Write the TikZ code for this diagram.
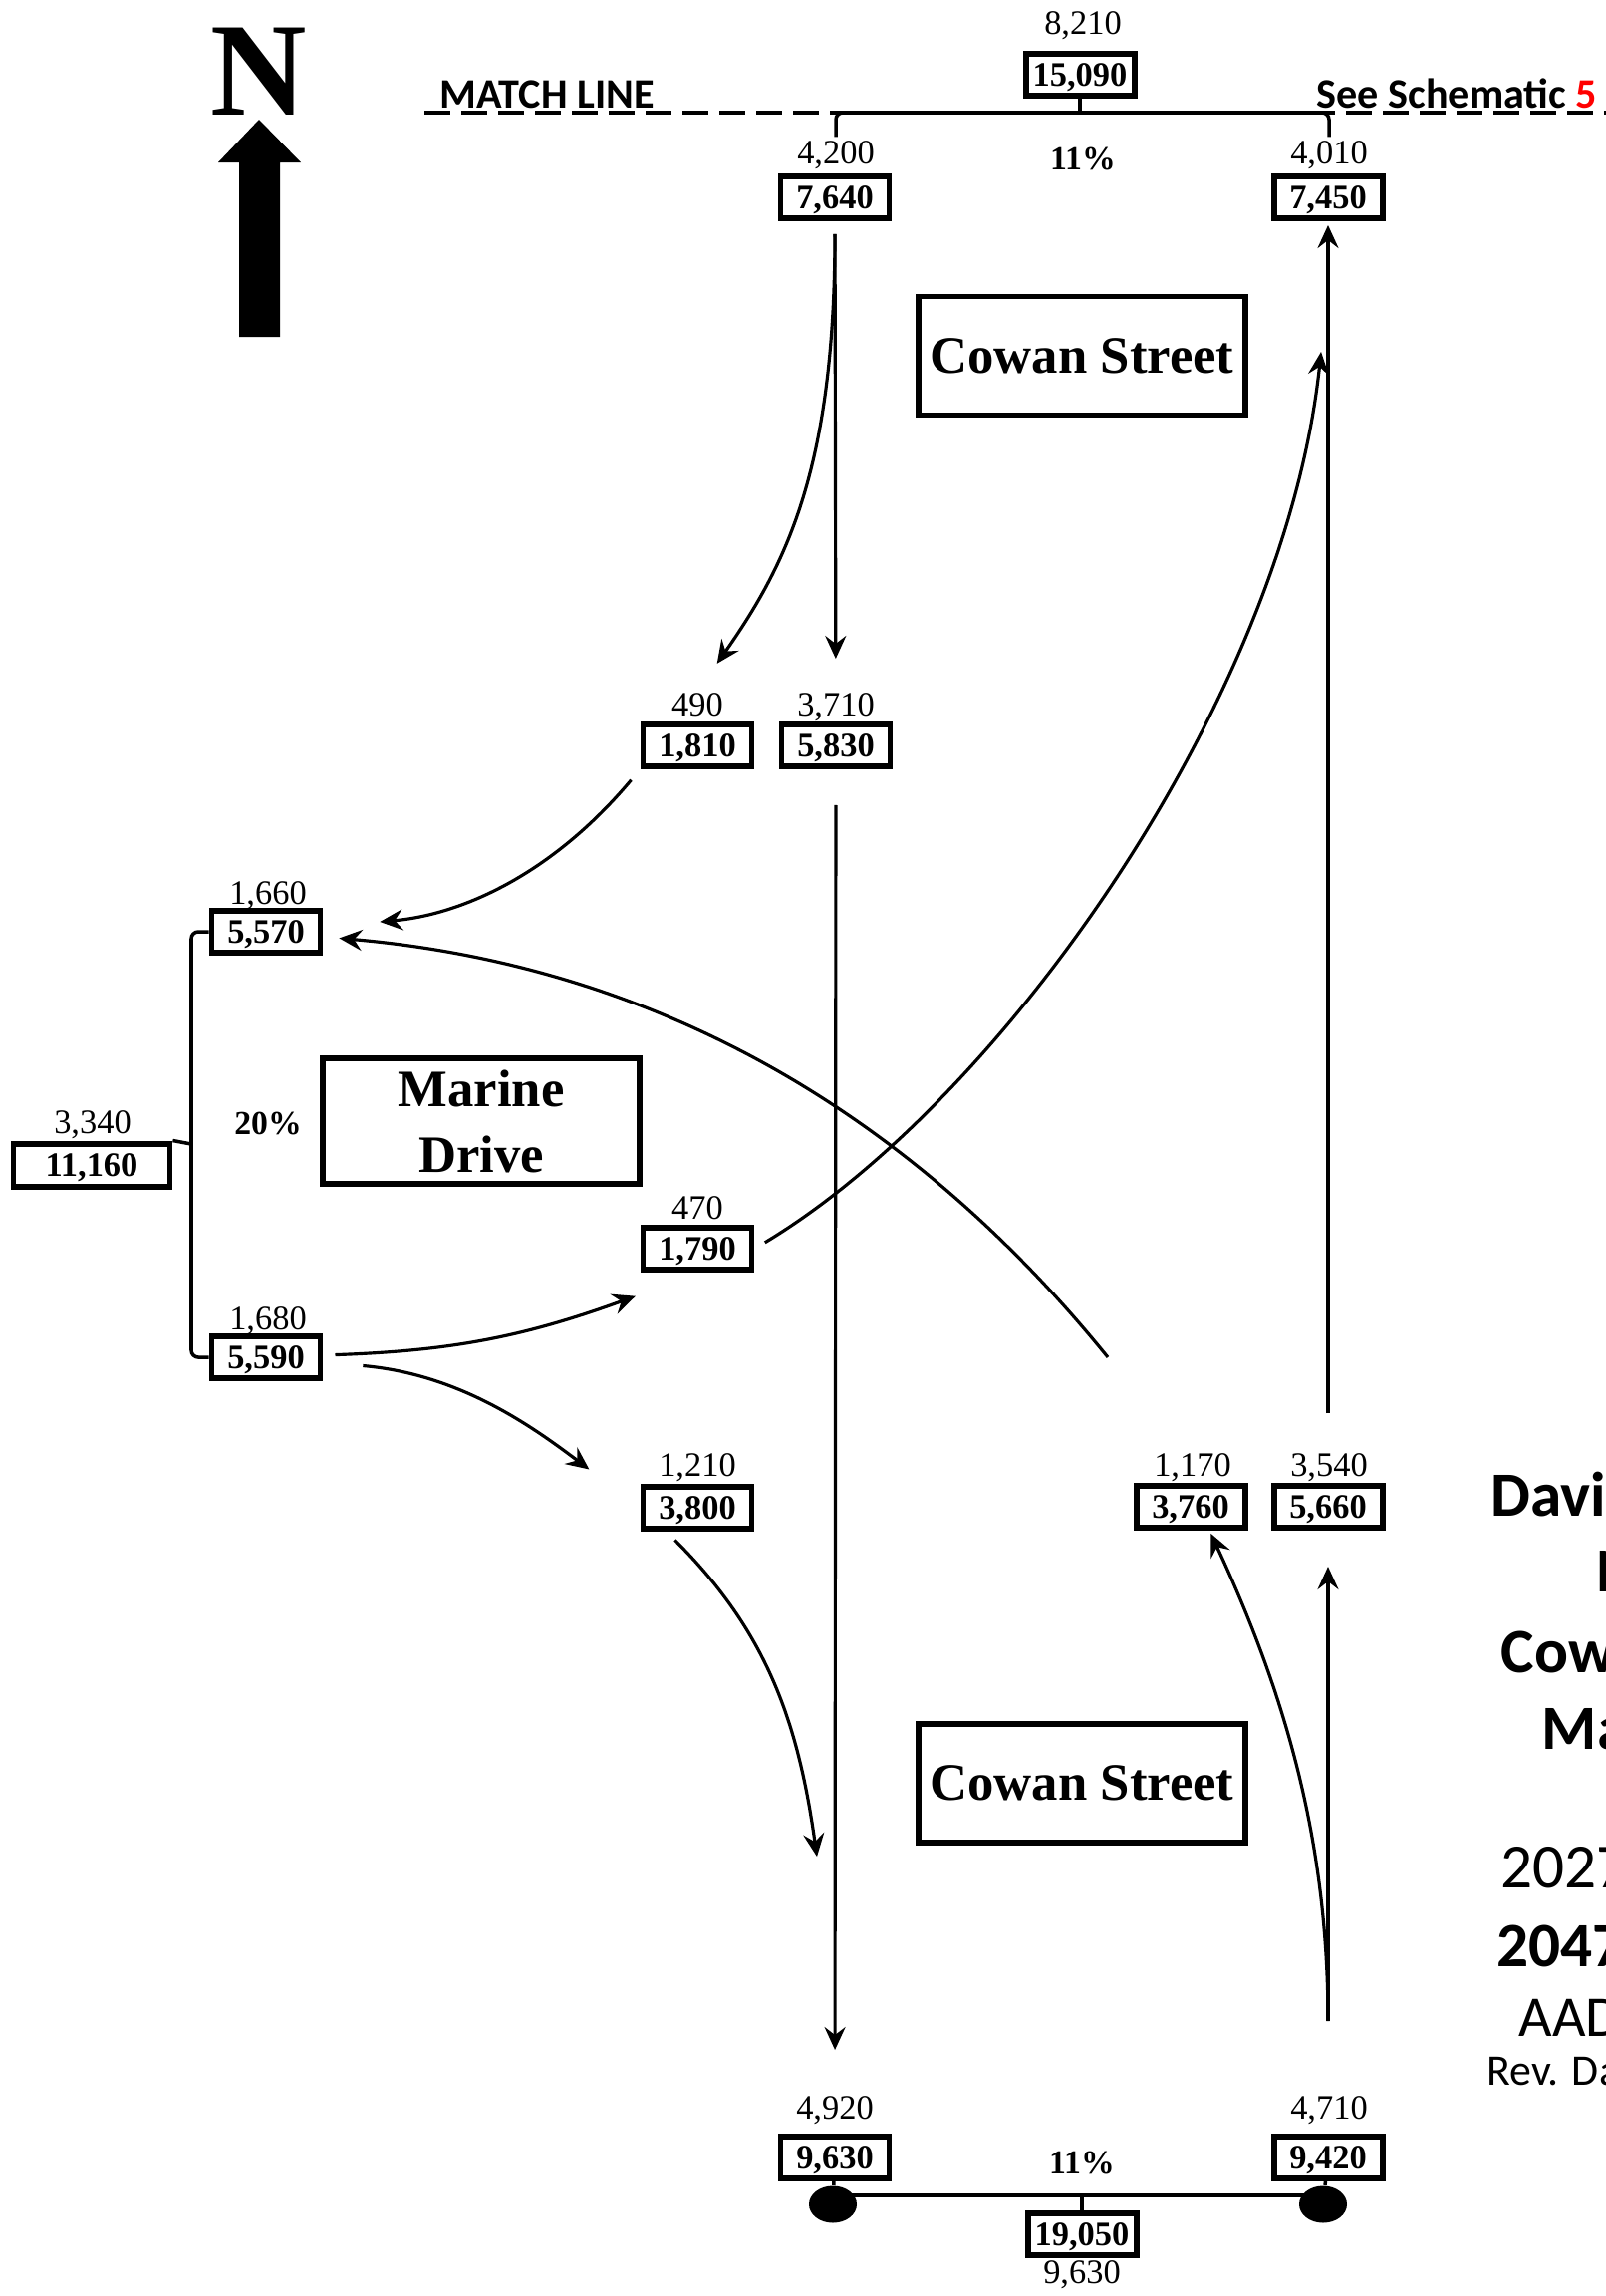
\documentclass[tikz,border=0pt]{standalone}
\usepackage{fontspec}
\setmainfont{Liberation Serif}
\newfontfamily\calfont{Carlito}
\usepackage{tikz}
\usetikzlibrary{arrows.meta,shapes.geometric}

\begin{document}
\begin{tikzpicture}[
  x=0.1mm, y=0.1mm,
  numbox/.style={draw, line width=1.7pt, font=\bfseries\fontsize{9.8}{11}\selectfont, text depth=0pt, minimum width=10.9mm, minimum height=4.2mm, inner sep=0pt},
  lbl/.style={font=\fontsize{9.8}{11}\selectfont, text depth=0pt, inner sep=1pt},
  pct/.style={font=\bfseries\fontsize{9.6}{11}\selectfont, text depth=0pt, inner sep=1pt},
  street/.style={draw, line width=1.7pt, align=center, font=\bfseries\fontsize{15}{18.8}\selectfont, minimum width=32.5mm, minimum height=11.9mm},
  arrow/.style={-{Stealth[length=2.3mm, width=2.1mm, inset=0.8mm]}, line width=0.9pt},
  brk/.style={line width=1pt, rounded corners=2pt},
  dot/.style={ellipse, fill, minimum width=4.8mm, minimum height=3.7mm, inner sep=0pt},
  mlabel/.style={anchor=base west, inner sep=0pt, font=\calfont\bfseries\fontsize{12}{14}\selectfont},
  title/.style={anchor=base west, inner sep=0pt, font=\calfont\bfseries\fontsize{18}{22}\selectfont},
  titlereg/.style={anchor=base west, inner sep=0pt, font=\calfont\fontsize{18}{22}\selectfont}
]
\useasboundingbox (0,0) rectangle (1612,-2304);
\clip (0,0) rectangle (1612,-2304);

\node[font=\bfseries\fontsize{38}{40}\selectfont, inner sep=0pt] (north) at (260,-72) {N};
\fill (240,-338) -- (240,-163) -- (219,-163) -- (260,-120) -- (302,-163) -- (281,-163) -- (281,-338) -- cycle;

\draw[line width=1.1pt, dash pattern=on 2.6mm off 1.1mm] (426,-113) -- (1612,-113);
\node[mlabel] (match) at (441,-108) {MATCH LINE};
\node[mlabel] (see) at (1321,-108) {See Schematic \textcolor{red}{5}};

\node[numbox] (tot_n) at (1084,-75) {15,090};
\node[lbl] (l8210) at (1087,-23) {8,210};
\node[numbox] (sb_n) at (838,-198) {7,640};
\node[lbl] (l4200) at (839,-153) {4,200};
\node[pct] (p_n) at (1087,-159) {11\%};
\node[numbox] (nb_n) at (1333,-198) {7,450};
\node[lbl] (l4010) at (1334,-153) {4,010};
\node[street] (cowan_n) at (1086,-357) {Cowan Street};

\node[numbox] (sb_l) at (700,-748) {1,810};
\node[lbl] (l490) at (700,-707) {490};
\node[numbox] (sb_t) at (839,-748) {5,830};
\node[lbl] (l3710) at (839,-707) {3,710};

\node[numbox] (wb_w) at (267,-935) {5,570};
\node[lbl] (l1660) at (269,-896) {1,660};
\node[numbox, minimum width=15.7mm, minimum height=4.3mm] (tot_w) at (92,-1169) {11,160};
\node[lbl] (l3340) at (93,-1126) {3,340};
\node[pct] (p_w) at (269,-1127) {20\%};
\node[street, minimum width=31.8mm, minimum height=12.6mm] (marine) at (483,-1125) {Marine\\Drive};
\node[numbox] (eb_w) at (267,-1362) {5,590};
\node[lbl] (l1680) at (269,-1323) {1,680};

\node[numbox] (eb_l) at (700,-1253) {1,790};
\node[lbl] (l470) at (700,-1212) {470};
\node[numbox] (eb_r) at (700,-1513) {3,800};
\node[lbl] (l1210) at (700,-1470) {1,210};
\node[numbox] (nb_l) at (1195,-1512) {3,760};
\node[lbl] (l1170) at (1197,-1470) {1,170};
\node[numbox] (nb_t) at (1333,-1512) {5,660};
\node[lbl] (l3540) at (1334,-1470) {3,540};
\node[street] (cowan_s) at (1086,-1789) {Cowan Street};

\node[numbox] (sb_s) at (838,-2165) {9,630};
\node[lbl] (l4920) at (838,-2115) {4,920};
\node[numbox] (nb_s) at (1333,-2165) {9,420};
\node[lbl] (l4710) at (1334,-2115) {4,710};
\node[pct] (p_s) at (1086,-2170) {11\%};
\node[numbox] (tot_s) at (1086,-2242) {19,050};
\node[lbl] (l9630) at (1086,-2280) {9,630};
\node[dot] (dotL) at (836,-2212) {};
\node[dot] (dotR) at (1328,-2212) {};

\node[title] (t1) at (1496,-1521) {Davi};
\node[title] (t2) at (1602,-1597) {N};
\node[title] (t3) at (1506,-1678) {Cow};
\node[title] (t4) at (1547,-1755) {Ma};
\node[titlereg] (t5) at (1506,-1894) {2027};
\node[title] (t6) at (1502,-1973) {2047};
\node[titlereg, font=\calfont\fontsize{16.5}{20}\selectfont] (t7) at (1524,-2043) {AAD};
\node[titlereg, font=\calfont\fontsize{12.5}{15}\selectfont] (t8) at (1492,-2092) {Rev. Da};

\coordinate (jN) at (1084,-113);
\coordinate (jW) at (192,-1148);
\coordinate (jS) at (1086,-2203);
\draw[brk] (l4200.north) |- (jN) -| (l4010.north);
\draw[brk] (tot_n) -- (jN);
\draw[brk] (wb_w.west) -| (jW) |- (eb_w.west);
\draw[brk] (tot_w.north east) -- (jW);
\draw[brk] ([yshift=0.9mm]dotL.center) -- ([yshift=0.9mm]dotR.center);
\draw[brk] (jS) -- (tot_s);
\draw[brk] (sb_s) -- (dotL);
\draw[brk] (nb_s) -- (dotR);

\coordinate (c4) at (1112,-1362);
\coordinate (c7) at (820,-1863);
\coordinate (c9) at (1333,-2028);
\coordinate (c12) at (1326,-353);
\draw[arrow, shorten <=1.3mm, shorten >=7.1mm] (sb_n.south) to[out=-90, in=55, out distance=25mm, in distance=19mm] ([xshift=-2.1mm]sb_l.north);
\draw[arrow, shorten <=1.3mm, shorten >=6.3mm] (sb_n) -- (sb_t);
\draw[arrow, shorten <=1.4mm, shorten >=5.7mm] (sb_l.south west) to[out=230, in=5] (wb_w);
\draw[arrow, shorten >=1.6mm] (c4) to[out=129, in=-5, out distance=30mm, in distance=35mm] (wb_w);
\draw[arrow, shorten <=1.2mm, shorten >=0.5mm] (eb_w) to[out=2, in=200] ([yshift=-2.2mm]eb_l.south west);
\draw[arrow, shorten <=4mm, shorten >=6.4mm] (eb_w) to[out=-5, in=143] (eb_r.west);
\draw[arrow, shorten <=1.2mm] ([xshift=-3.1mm]eb_r.south) to[out=-45, in=98] (c7);
\draw[arrow, shorten <=3.6mm, shorten >=8.4mm] (sb_t) -- (sb_s);
\draw[arrow, shorten >=0.3mm] (c9) to[out=90, in=-65, out distance=18mm, in distance=18mm] ([xshift=1.9mm]nb_l.south);
\draw[arrow, shorten >=3.6mm] (c9) -- (nb_t);
\draw[arrow, shorten <=7mm, shorten >=0.4mm] (nb_t) -- (nb_n);
\draw[arrow, shorten <=1.2mm] (eb_l.east) to[out=31, in=-96, out distance=29mm, in distance=35mm] (c12);
\end{tikzpicture}
\end{document}
